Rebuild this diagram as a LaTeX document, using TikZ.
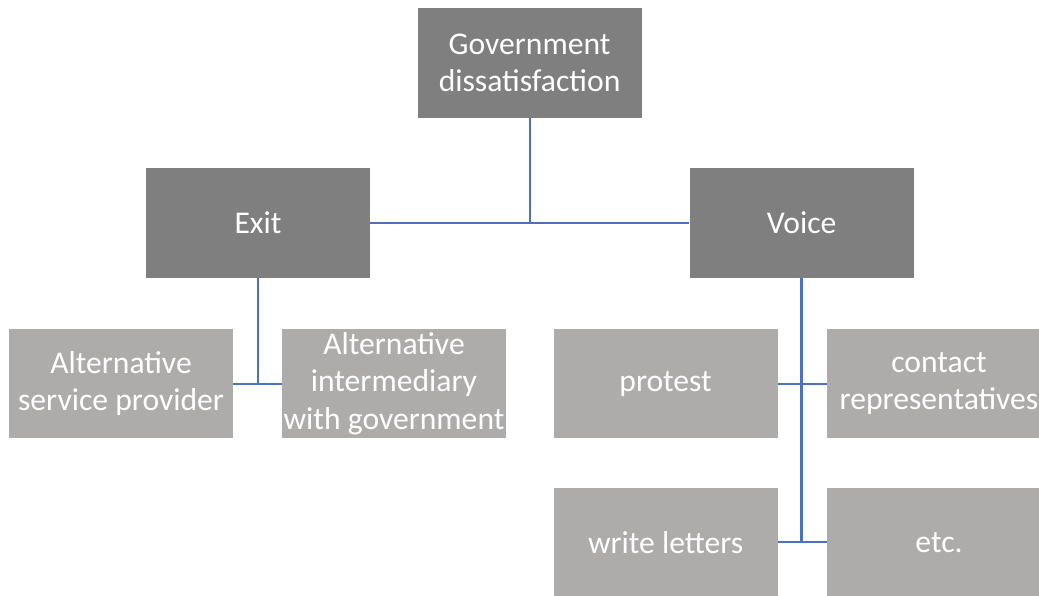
\documentclass[tikz,border=0pt]{standalone}
\usepackage{fontspec}
\setmainfont{Carlito}
\usetikzlibrary{calc}
\definecolor{darkgrey}{HTML}{7F7F7F}
\definecolor{lightgrey}{HTML}{AEABAB}
\definecolor{linkblue}{HTML}{4A72BE}
\tikzset{
  box/.style={minimum width=5.6cm, minimum height=2.74cm, inner sep=0pt,
    align=center, text=white, font=\fontsize{22.5}{26.5}\selectfont},
  darkbox/.style={box, fill=darkgrey},
  lightbox/.style={box, fill=lightgrey},
  link/.style={draw=linkblue, line width=1.4pt}
}
\begin{document}
\begin{tikzpicture}
\useasboundingbox (0,0) rectangle (25.975,-14.9);
\begin{scope}
\clip (0,0) rectangle (25.975,-14.9);
\node [darkbox] (gov) at (13.24,-1.575) {Government\\dissatisfaction};
\node [darkbox] (exit) at (6.45,-5.575) {Exit};
\node [darkbox] (voice) at (20.04,-5.575) {Voice};
\node [lightbox] (asp) at (3.025,-9.59) {Alternative\\service provider};
\node [lightbox] (aig) at (9.85,-9.59) {Alternative\\intermediary\\with government};
\node [lightbox] (protest) at (16.64,-9.59) {protest};
\node [lightbox] (contact) at (23.475,-9.59) {contact\\representatives};
\node [lightbox] (letters) at (16.64,-13.56) {write letters};
\node [lightbox] (etc) at (23.475,-13.56) {etc.};
\end{scope}
\draw [link] (exit.east) -- (voice.west);
\draw [link] (gov.south) -- (gov.south |- exit.east);
\draw [link] (exit.south) -- (exit.south |- asp.east);
\draw [link] (asp.east) -- (aig.west);
\draw [link, line width=2.2pt] (voice.south) -- (voice.south |- letters.east);
\draw [link] (protest.east) -- (contact.west);
\draw [link] (letters.east) -- (etc.west);
\end{tikzpicture}
\end{document}
